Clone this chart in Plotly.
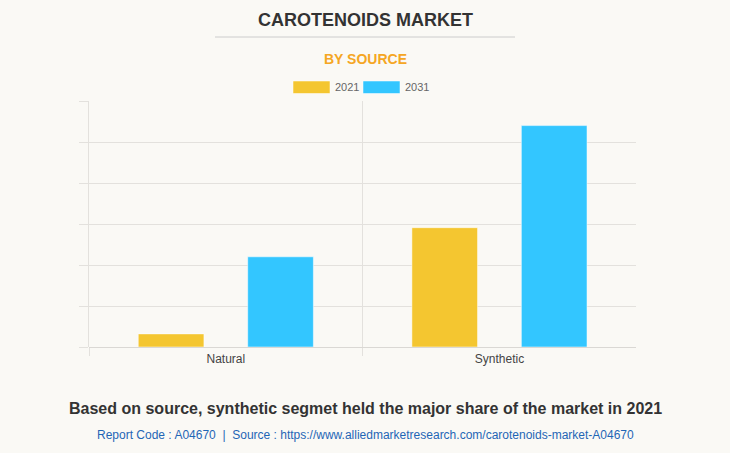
import plotly.graph_objects as go

categories = ["Natural", "Synthetic"]
series_names = ["2021", "2031"]
values_2021 = [0.32, 2.91]
values_2031 = [2.2, 5.4]
colors = ["#F4C630", "#33C6FF"]

fig = go.Figure()
for name, vals, col in zip(series_names, [values_2021, values_2031], colors):
    fig.add_trace(go.Bar(
        x=categories, y=vals, name=name,
        marker=dict(color=col, line=dict(color="rgba(255,255,255,0.5)", width=1)),
        showlegend=False,
    ))

bg = "#FAF9F5"
W, H = 730, 453
pl, pr, pt, pb = 89, 636, 101, 347
fig.update_layout(
    width=W, height=H,
    paper_bgcolor=bg, plot_bgcolor=bg,
    margin=dict(l=pl, r=W - pr, t=pt, b=H - pb),
    barmode="group", bargap=0.2, bargroupgap=0.4,
    font=dict(family="Arial, Liberation Sans, sans-serif", color="#444"),
)
fig.update_yaxes(
    range=[0, 6], dtick=1, showticklabels=False,
    showgrid=True, gridcolor="#E3E1DD", gridwidth=1,
    ticks="outside", ticklen=9, tickcolor="#E3E1DD",
    zeroline=True, zerolinecolor="#DAD8D4", zerolinewidth=1,
    showline=True, linecolor="#E3E1DD", linewidth=1,
)
fig.update_xaxes(
    range=[-0.5, 1.499],
    tickson="boundaries", showgrid=True, gridcolor="#E3E1DD",
    ticks="outside", ticklen=8, tickcolor="#E3E1DD",
    tickfont=dict(size=12, color="#444"), ticklabelstandoff=3,
    showline=False,
)

anns = []
shp = []
anns.append(dict(text="<b>CAROTENOIDS MARKET</b>", x=365, y=20, font=dict(size=18, color="#333")))
shp.append(dict(type="line", x0=215, x1=515, y0=37, y1=37, line=dict(color="#CCCCCC", width=1)))
anns.append(dict(text="<b>BY SOURCE</b>", x=365, y=59, font=dict(size=14, color="#F5A623")))

# Legend
leg_swatches = [(293, 330), (363, 400)]
for (x0, x1), name, col in zip(leg_swatches, series_names, colors):
    shp.append(dict(type="rect", x0=x0, x1=x1, y0=93.5, y1=81,
                    fillcolor=col, line=dict(color="rgba(255,255,255,0.5)", width=1)))
    anns.append(dict(text=name, x=x1 + 3, y=87.5, xanchor="left",
                     font=dict(size=11, color="#666")))

anns.append(dict(text="<b>Based on source, synthetic segmet held the major share of the market in 2021</b>",
                 x=365, y=408, font=dict(size=16, color="#333")))
anns.append(dict(text="Report Code : A04670  |  Source : https://www.alliedmarketresearch.com/carotenoids-market-A04670",
                 x=365, y=435, font=dict(size=12, color="#1F66B5")))

# pixel -> paper coordinates (relative to plot area)
def cx(x): return (x - pl) / (pr - pl)
def cy(y): return (y - pb) / (pt - pb)

for a in anns:
    a.update(xref="paper", yref="paper", showarrow=False, yanchor="middle")
    a.setdefault("xanchor", "center")
    a["x"] = cx(a["x"]); a["y"] = cy(a["y"])
for s in shp:
    s.update(xref="paper", yref="paper")
    s["x0"] = cx(s["x0"]); s["x1"] = cx(s["x1"])
    s["y0"] = cy(s["y0"]); s["y1"] = cy(s["y1"])

fig.update_layout(annotations=anns, shapes=shp)
fig.write_html("out.html", config={"displayModeBar": False},
               post_script="document.body.style.margin='0';document.body.style.background='#FAF9F5';")
